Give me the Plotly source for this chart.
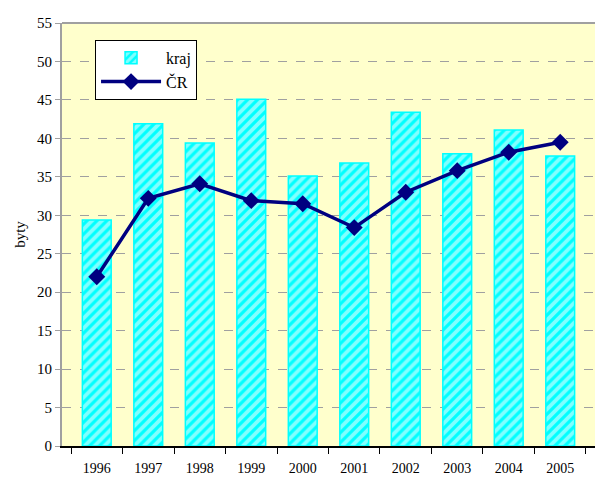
import plotly.graph_objects as go

years = ["1996", "1997", "1998", "1999", "2000", "2001", "2002", "2003", "2004", "2005"]
kraj = [29.4, 41.9, 39.4, 45.1, 35.1, 36.8, 43.4, 38.0, 41.1, 37.7]
cr = [22.0, 32.2, 34.1, 31.9, 31.5, 28.4, 33.0, 35.8, 38.2, 39.5]
y_ticks = list(range(0, 56, 5))

font = "Liberation Serif"

fig = go.Figure()
fig.add_trace(go.Bar(
    x=years, y=kraj, name="kraj",
    marker=dict(color="#00FFFF", line=dict(color="#00FFFF", width=1.5),
                pattern=dict(shape="/", fgcolor="white", size=7, solidity=0.55, fillmode="overlay")),
))
fig.add_trace(go.Scatter(
    x=years, y=cr, name="ČR", mode="lines+markers",
    line=dict(color="#000080", width=3.5),
    marker=dict(symbol="diamond", size=13, color="#000080"),
))

fig.update_layout(
    width=595, height=478,
    margin=dict(l=62, r=0, t=23, b=32, autoexpand=False),
    paper_bgcolor="white", plot_bgcolor="#FFFFCC",
    font=dict(family=font, size=13, color="black"),
    bargap=0.44,
    showlegend=True,
    legend=dict(x=0.062, y=0.96, xanchor="left", yanchor="top",
                bgcolor="white", bordercolor="black", borderwidth=1,
                font=dict(size=16, family=font), tracegroupgap=4,
                itemwidth=60),
    xaxis=dict(type="category", showline=True, linecolor="black", linewidth=1.5,
               ticks="outside", tickson="boundaries", ticklen=6, tickcolor="black",
               showgrid=False, ticklabelstandoff=8, automargin=False,
               tickfont=dict(size=14, family=font)),
    yaxis=dict(range=[0, 55], tickvals=y_ticks, showline=True, linecolor="#A0A0A0",
               linewidth=2, ticks="outside", ticklen=5, tickcolor="#A0A0A0",
               showgrid=True, gridcolor="#A0A0A0", griddash="dash", gridwidth=1,
               zeroline=False, automargin=False,
               title=dict(text="byty", font=dict(size=15, family=font), standoff=8),
               tickfont=dict(size=15, family=font)),
    shapes=[dict(type="line", xref="paper", yref="paper", x0=0, x1=1, y0=1, y1=1,
                 line=dict(color="#A0A0A0", width=2))],
)

fig.write_html("out.html", config={"displayModeBar": False},
               post_script="document.body.style.margin='0';document.body.style.overflow='hidden';")
